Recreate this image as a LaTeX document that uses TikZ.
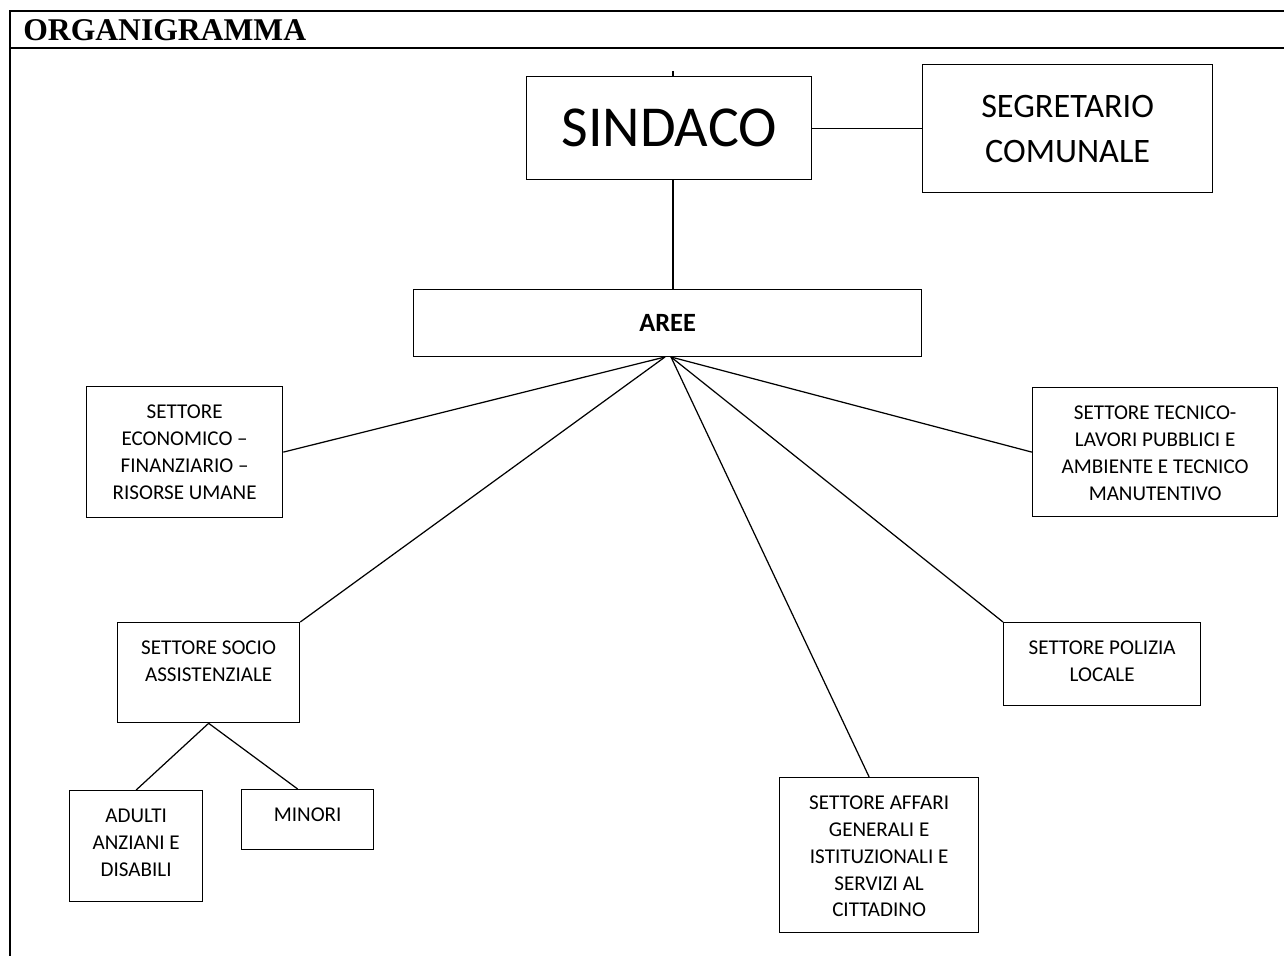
\documentclass[tikz,border=0pt]{standalone}
\usepackage{fontspec}
\setmainfont{Liberation Serif}
\newfontfamily\calibri{Carlito}

% text set at the top of a fixed size box
\newcommand{\boxtext}[3]{\parbox[c][#2][t]{#1}{\centering\vspace*{10.6pt}#3}}

\tikzset{
  box/.style={draw, rectangle, line width=0.75pt, inner sep=0pt, anchor=north west,
    font=\calibri\fontsize{12}{15.2}\selectfont},
  bigbox/.style={draw, rectangle, line width=0.75pt, inner sep=0pt, anchor=north west, align=center},
  link/.style={line width=0.7pt},
  frame/.style={line width=1.1pt}
}

\begin{document}
\begin{tikzpicture}[x=0.02cm, y=-0.02cm]
  \useasboundingbox (0,0) rectangle (1284,956);

  % table cell
  \coordinate (tl) at (10,11);
  \coordinate (tr) at (1284,11);
  \coordinate (hl) at (10,48);
  \coordinate (hr) at (1284,48);
  \coordinate (bl) at (10,956);
  \draw[frame] (tr) -- (tl) -- (bl);
  \draw[frame] (hl) -- (hr);
  \node[anchor=base west, inner sep=0pt, font=\bfseries\fontsize{18}{22}\selectfont] (title) at (23,41) {ORGANIGRAMMA};

  % top of the chart
  \node[bigbox, minimum width=5.7cm, minimum height=2.06cm, font=\calibri\fontsize{33}{40}\selectfont] (sindaco) at (526,76) {SINDACO};
  \node[bigbox, minimum width=5.8cm, minimum height=2.56cm, font=\calibri\fontsize{19.5}{25.5}\selectfont] (segretario) at (922,64) {SEGRETARIO\\COMUNALE};
  \node[bigbox, minimum width=10.16cm, minimum height=1.34cm, font=\calibri\bfseries\fontsize{15}{18}\selectfont] (aree) at (413,289) {AREE};

  % sectors
  \node[box] (economico) at (86,386) {\boxtext{3.92cm}{2.62cm}{SETTORE\\ECONOMICO –\\FINANZIARIO –\\RISORSE UMANE}};
  \node[box] (tecnico) at (1032,387) {\boxtext{4.9cm}{2.58cm}{SETTORE TECNICO-\\LAVORI PUBBLICI E\\AMBIENTE E TECNICO\\MANUTENTIVO}};
  \node[box] (socio) at (117,622) {\boxtext{3.64cm}{2cm}{SETTORE SOCIO\\ASSISTENZIALE}};
  \node[box] (polizia) at (1003,622) {\boxtext{3.94cm}{1.66cm}{SETTORE POLIZIA\\LOCALE}};
  \node[box] (affari) at (779,777) {\boxtext{3.98cm}{3.1cm}{SETTORE AFFARI\\GENERALI E\\ISTITUZIONALI E\\SERVIZI AL\\CITTADINO}};
  \node[box] (adulti) at (69,790) {\boxtext{2.66cm}{2.22cm}{ADULTI\\ANZIANI E\\DISABILI}};
  \node[box] (minori) at (241,789) {\boxtext{2.64cm}{1.2cm}{MINORI}};

  % links
  \coordinate (stub) at (673,71);
  \coordinate (hubL) at (665,357);
  \coordinate (hubR) at (671,357);
  \draw[link] (stub) -- (stub |- sindaco.north);
  \draw[link] (sindaco.south -| stub) -- (aree.north -| stub);
  \draw[link] (sindaco.east) -- (sindaco.east -| segretario.west);
  \draw[link] (hubL) -- (economico.east);
  \draw[link] (hubL) -- (socio.north east);
  \draw[link] (hubR) -- ([xshift=-0.2cm]affari.north);
  \draw[link] (hubR) -- (polizia.north west);
  \draw[link] (hubR) -- (tecnico.west);
  \draw[link] (socio.south) -- (adulti.north);
  \draw[link] (socio.south) -- ([xshift=-0.2cm]minori.north);
\end{tikzpicture}
\end{document}
